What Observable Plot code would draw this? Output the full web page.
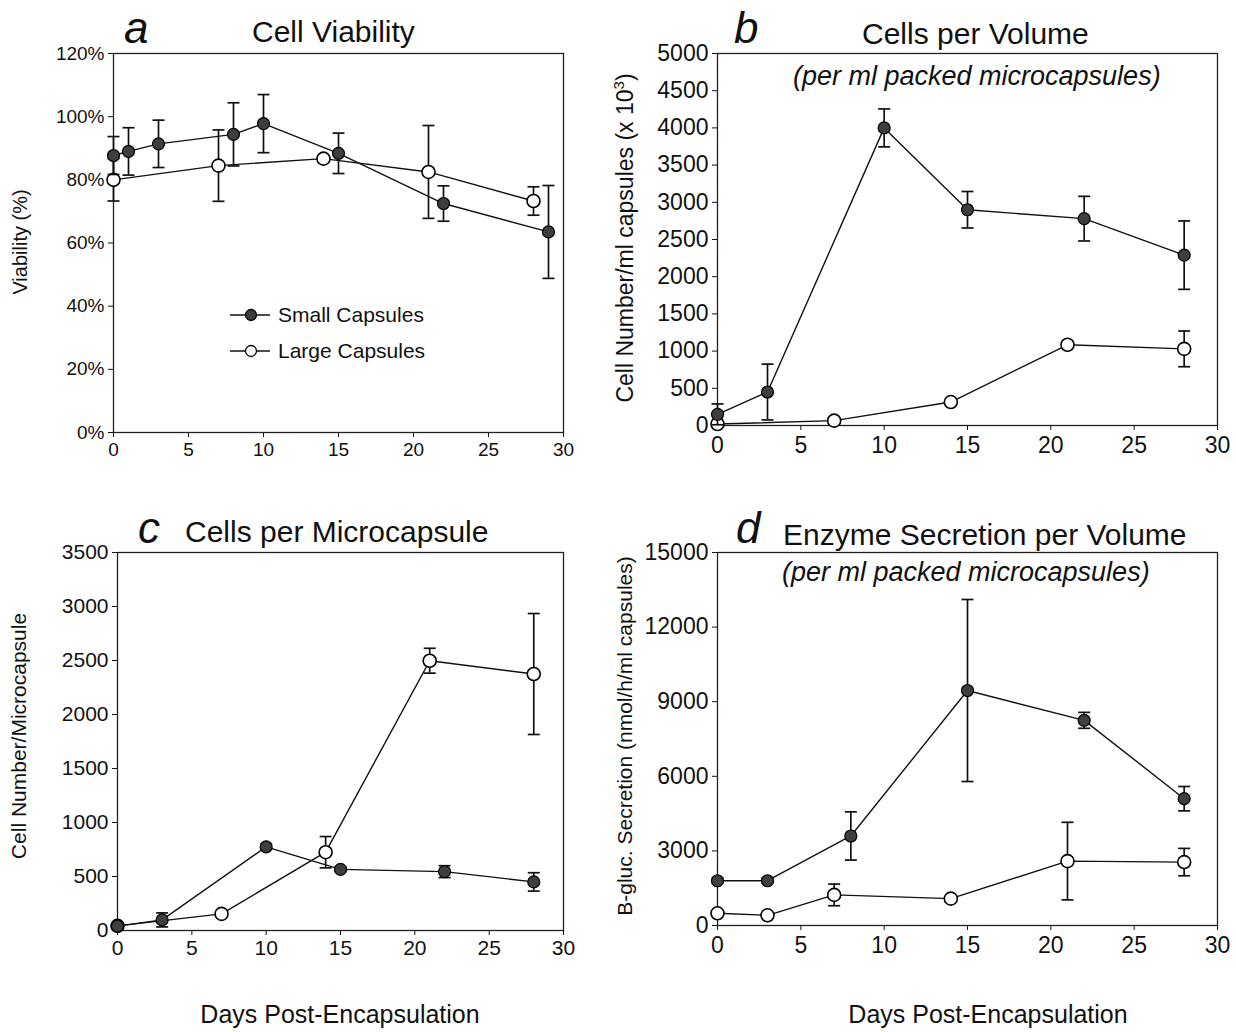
<!DOCTYPE html>
<html>
<head>
<meta charset="utf-8">
<script src="https://cdn.jsdelivr.net/npm/d3@7"></script>
<script src="https://cdn.jsdelivr.net/npm/@observablehq/plot@0.6"></script>
<style>
  html, body { margin: 0; padding: 0; background: #fff; }
  #root { position: relative; width: 1236px; height: 1032px; background: #fff; font-family: "Liberation Sans", Arial, sans-serif; color: #111; overflow: hidden; }
  .abs { position: absolute; white-space: nowrap; }
  .panel { position: absolute; }
  .letter { font-style: italic; font-size: 44px; line-height: 1; }
  .title { font-size: 30px; line-height: 1; }
  .sub { font-size: 27px; font-style: italic; line-height: 1; }
  .ytitle { transform: translate(-50%, -50%) rotate(-90deg); line-height: 1; }
  .xtitle { font-size: 25px; transform: translateX(-50%); line-height: 1; }
  .leg { font-size: 21px; line-height: 1; display: flex; align-items: center; }
</style>
</head>
<body>
<div id="root"></div>
<script>
// ---------- Data ----------
// Panel a: Cell Viability (%)
const viabDaysSmall = [0, 1, 3, 8, 10, 15, 22, 29];
const viabSmall     = [87.7, 89, 91.4, 94.4, 97.8, 88.4, 72.5, 63.5];
const viabSmallErr  = [6, 7.5, 7.5, 10, 9.2, 6.4, 5.6, 14.7];
const viabDaysLarge = [0, 7, 14, 21, 28];
const viabLarge     = [80, 84.5, 86.7, 82.5, 73.3];
const viabLargeErr  = [6.7, 11.3, 0, 14.7, 4.5];

// Panel b: Cells per Volume (x10^3 per ml capsules)
const volDaysSmall = [0, 3, 10, 15, 22, 28];
const volSmall     = [150, 450, 4000, 2900, 2780, 2290];
const volSmallErr  = [140, 375, 255, 245, 300, 460];
const volDaysLarge = [0, 7, 14, 21, 28];
const volLarge     = [20, 65, 315, 1085, 1030];
const volLargeErr  = [0, 0, 0, 0, 240];

// Panel c: Cells per Microcapsule
const capDaysSmall = [0, 3, 10, 15, 22, 28];
const capSmall     = [40, 98, 775, 566, 545, 450];
const capSmallErr  = [0, 65, 25, 20, 55, 85];
const capDaysLarge = [0, 7, 14, 21, 28];
const capLarge     = [43, 154, 725, 2498, 2375];
const capLargeErr  = [0, 0, 145, 115, 560];

// Panel d: Enzyme Secretion per Volume
const enzDaysSmall = [0, 3, 8, 15, 22, 28];
const enzSmall     = [1800, 1800, 3600, 9450, 8250, 5100];
const enzSmallErr  = [100, 100, 970, 3660, 320, 490];
const enzDaysLarge = [0, 3, 7, 14, 21, 28];
const enzLarge     = [490, 410, 1230, 1080, 2590, 2550];
const enzLargeErr  = [0, 0, 435, 0, 1560, 550];

const dayTicks = [0, 5, 10, 15, 20, 25, 30];
const viabTicks = [0, 20, 40, 60, 80, 100, 120];
const volTicks = [0, 500, 1000, 1500, 2000, 2500, 3000, 3500, 4000, 4500, 5000];
const capTicks = [0, 500, 1000, 1500, 2000, 2500, 3000, 3500];
const enzTicks = [0, 3000, 6000, 9000, 12000, 15000];

const seriesNames = ["Small Capsules", "Large Capsules"];

// ---------- helpers ----------
const rows = (days, vals, errs) => days.map((d, i) => ({day: d, v: vals[i], e: errs[i]}));

const capSymbol = {
  draw(ctx) { ctx.moveTo(-6, 0); ctx.lineTo(6, 0); }
};

function seriesMarks(data, filled, ymin) {
  const withErr = data.filter(d => d.e > 0);
  return [
    Plot.ruleX(withErr, {x: "day", y1: d => Math.max(ymin, d.v - d.e), y2: d => d.v + d.e, stroke: "#111", strokeWidth: 1.7}),
    Plot.dot(withErr, {x: "day", y: d => d.v + d.e, symbol: capSymbol, stroke: "#111", strokeWidth: 1.7, fill: "none"}),
    Plot.dot(withErr.filter(d => d.v - d.e > ymin), {x: "day", y: d => d.v - d.e, symbol: capSymbol, stroke: "#111", strokeWidth: 1.7, fill: "none"}),
    Plot.line(data, {x: "day", y: "v", stroke: "#111", strokeWidth: 1.4}),
    Plot.dot(data, {x: "day", y: "v", r: filled ? 6 : 6.5, fill: filled ? "#3e3e3e" : "#fff", stroke: "#000", strokeWidth: filled ? 1.2 : 1.6})
  ];
}

function panel({small, large, yTicks, yFormat, width, height, ml, mr, mt, mb, fontSize, xPad}) {
  const ymax = yTicks[yTicks.length - 1];
  return Plot.plot({
    width, height,
    marginLeft: ml, marginRight: mr, marginTop: mt, marginBottom: mb,
    style: {fontFamily: "'Liberation Sans', Arial, sans-serif", fontSize: fontSize + "px", color: "#111", background: "#fff", overflow: "visible"},
    x: {domain: [0, 30], ticks: dayTicks, tickSize: 5, tickPadding: xPad, label: null},
    y: {domain: [0, ymax], ticks: yTicks, tickFormat: yFormat, tickSize: 5, tickPadding: 4, label: null},
    marks: [
      Plot.frame({stroke: "#222", strokeWidth: 1.3}),
      ...seriesMarks(large, false, 0),
      ...seriesMarks(small, true, 0)
    ]
  });
}

const root = document.getElementById("root");
function place(node, left, top) {
  const w = document.createElement("div");
  w.className = "panel";
  w.style.left = left + "px"; w.style.top = top + "px";
  w.appendChild(node);
  root.appendChild(w);
}
function text(cls, str, left, top, size) {
  const el = document.createElement("div");
  el.className = "abs " + cls;
  el.style.left = left + "px"; el.style.top = top + "px";
  if (size) el.style.fontSize = size + "px";
  el.innerHTML = str;
  root.appendChild(el);
  return el;
}

// ---------- panels ----------
place(panel({
  small: rows(viabDaysSmall, viabSmall, viabSmallErr),
  large: rows(viabDaysLarge, viabLarge, viabLargeErr),
  yTicks: viabTicks, yFormat: d => d + "%",
  width: 600, height: 480, ml: 113, mr: 37, mt: 53, mb: 48, fontSize: 19, xPad: 5
}), 0, 0);

place(panel({
  small: rows(volDaysSmall, volSmall, volSmallErr),
  large: rows(volDaysLarge, volLarge, volLargeErr),
  yTicks: volTicks, yFormat: d => String(d),
  width: 636, height: 480, ml: 117, mr: 19, mt: 53, mb: 55, fontSize: 23, xPad: 6
}), 600, 0);

place(panel({
  small: rows(capDaysSmall, capSmall, capSmallErr),
  large: rows(capDaysLarge, capLarge, capLargeErr),
  yTicks: capTicks, yFormat: d => String(d),
  width: 600, height: 500, ml: 117, mr: 37, mt: 72, mb: 50, fontSize: 21, xPad: 5
}), 0, 480);

place(panel({
  small: rows(enzDaysSmall, enzSmall, enzSmallErr),
  large: rows(enzDaysLarge, enzLarge, enzLargeErr),
  yTicks: enzTicks, yFormat: d => String(d),
  width: 636, height: 500, ml: 117, mr: 19, mt: 72, mb: 55, fontSize: 23, xPad: 6
}), 600, 480);

// ---------- titles ----------
text("letter", "a", 124, 6);
text("title", "Cell Viability", 252, 17);
text("letter", "b", 734, 6);
text("title", "Cells per Volume", 862, 19);
text("sub", "(per ml packed microcapsules)", 793, 63);
text("letter", "c", 138, 506);
text("title", "Cells per Microcapsule", 185, 517);
text("letter", "d", 736, 506);
text("title", "Enzyme Secretion per Volume", 783, 520);
text("sub", "(per ml packed microcapsules)", 782, 559);

// y titles
text("ytitle", "Viability (%)", 20, 242, 20);
text("ytitle", "Cell Number/ml capsules (x 10<sup style='font-size:15px'>3</sup>)", 624, 238, 23);
text("ytitle", "Cell Number/Microcapsule", 18, 736, 21);
text("ytitle", "B-gluc. Secretion (nmol/h/ml capsules)", 624, 736, 21);

// x titles
text("xtitle", "Days Post-Encapsulation", 340, 1002);
text("xtitle", "Days Post-Encapsulation", 988, 1002);

// ---------- legend (panel a) ----------
function legendItem(label, filled, left, top) {
  const el = document.createElement("div");
  el.className = "abs leg";
  el.style.left = left + "px"; el.style.top = top + "px";
  el.innerHTML = `<svg width="44" height="16" style="margin-right:6px">
    <line x1="2" x2="42" y1="8" y2="8" stroke="#111" stroke-width="1.4"></line>
    <circle cx="23" cy="8" r="5.5" fill="${filled ? "#3e3e3e" : "#fff"}" stroke="#000" stroke-width="1.3"></circle>
  </svg><span>${label}</span>`;
  root.appendChild(el);
}
legendItem(seriesNames[0], true, 228, 304);
legendItem(seriesNames[1], false, 228, 340);
</script>
</body>
</html>
